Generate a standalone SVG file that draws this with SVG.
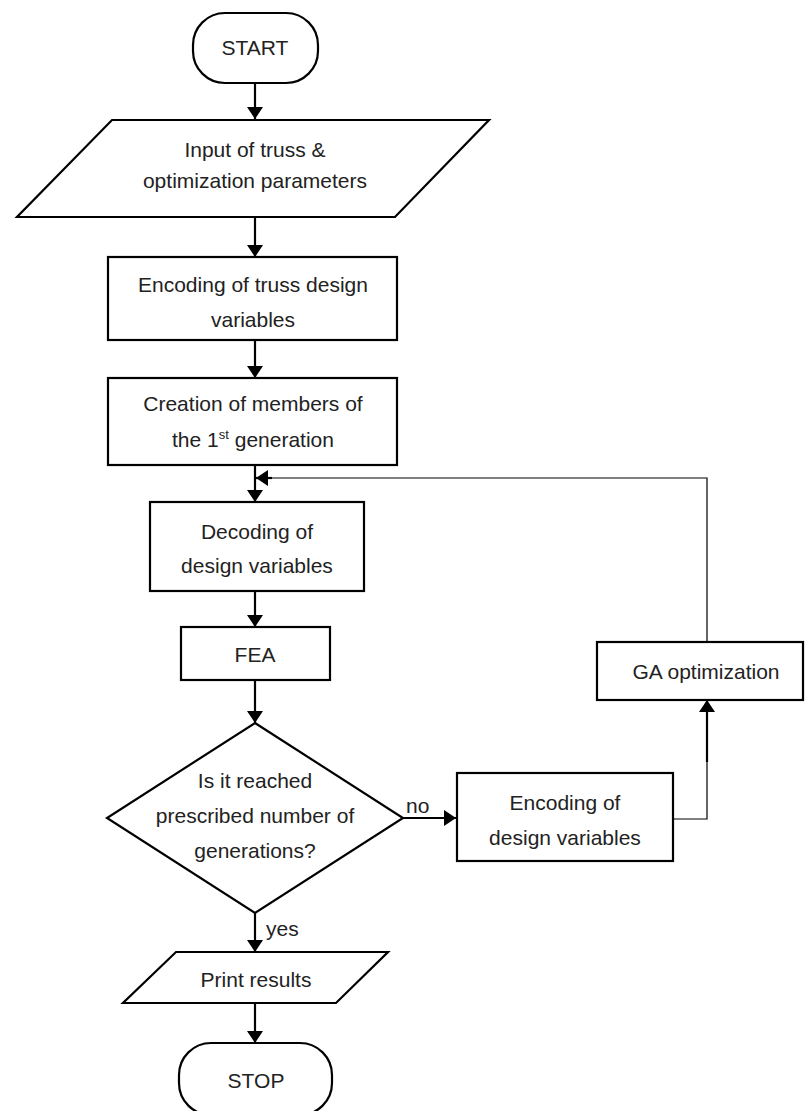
<svg xmlns="http://www.w3.org/2000/svg" width="805" height="1111" viewBox="0 0 805 1111">
  <style>
    .shape { fill: #ffffff; stroke: #000000; stroke-width: 2.2; }
    .lbl { font-family: "Liberation Sans", Arial, sans-serif; font-size: 21px; fill: #222222; text-anchor: middle; }
    .tag { font-family: "Liberation Sans", Arial, sans-serif; font-size: 21px; fill: #222222; }
    .flow { fill: none; stroke: #000000; stroke-width: 2.2; }
    .thin { fill: none; stroke: #000000; stroke-width: 1.2; }
  </style>
  <defs>
    <marker id="arrow" viewBox="0 0 12 16" refX="12" refY="8" markerWidth="13" markerHeight="16" markerUnits="userSpaceOnUse" orient="auto">
      <path d="M0,0 L12,8 L0,16 Z" fill="#000000"/>
    </marker>
  </defs>
  <rect width="805" height="1111" fill="#ffffff"/>

  <g id="connectors">
    <line class="flow" x1="255" y1="83" x2="255" y2="119" marker-end="url(#arrow)"/>
    <line class="flow" x1="255" y1="217" x2="255" y2="257" marker-end="url(#arrow)"/>
    <line class="flow" x1="255" y1="340" x2="255" y2="378" marker-end="url(#arrow)"/>
    <line class="flow" x1="255" y1="465" x2="255" y2="502" marker-end="url(#arrow)"/>
    <line class="flow" x1="255" y1="591" x2="255" y2="627" marker-end="url(#arrow)"/>
    <line class="flow" x1="255" y1="680" x2="255" y2="723" marker-end="url(#arrow)"/>
    <line class="flow" x1="403" y1="818" x2="456" y2="818" marker-end="url(#arrow)"/>
    <polyline class="thin" points="673,819 707,819 707,760"/>
    <line class="flow" x1="707" y1="762" x2="707" y2="700" marker-end="url(#arrow)"/>
    <polyline class="thin" points="707,642 707,478 270,478"/>
    <line class="flow" x1="272" y1="478" x2="256" y2="478" marker-end="url(#arrow)"/>
    <line class="flow" x1="255" y1="913" x2="255" y2="952" marker-end="url(#arrow)"/>
    <line class="flow" x1="255" y1="1003" x2="255" y2="1043" marker-end="url(#arrow)"/>
    <text class="tag" x="406" y="813">no</text>
    <text class="tag" x="266" y="936">yes</text>
  </g>

  <g id="start">
    <rect class="shape" x="193" y="13" width="125" height="70" rx="32" ry="32"/>
    <text class="lbl" x="255" y="55">START</text>
  </g>

  <g id="input">
    <polygon class="shape" points="112,120 489,120 395,217 17,217"/>
    <text class="lbl" x="255" y="157">Input of truss &amp;</text>
    <text class="lbl" x="255" y="188">optimization parameters</text>
  </g>

  <g id="encode-truss">
    <rect class="shape" x="108" y="257" width="289" height="83"/>
    <text class="lbl" x="253" y="292">Encoding of truss design</text>
    <text class="lbl" x="253" y="327">variables</text>
  </g>

  <g id="creation">
    <rect class="shape" x="108" y="378" width="289" height="87"/>
    <text class="lbl" x="253" y="411">Creation of members of</text>
    <text class="lbl" x="253" y="447">the 1<tspan font-size="13" dy="-8">st</tspan><tspan dy="8"> generation</tspan></text>
  </g>

  <g id="decoding">
    <rect class="shape" x="150" y="502" width="214" height="89"/>
    <text class="lbl" x="257" y="539">Decoding of</text>
    <text class="lbl" x="257" y="573">design variables</text>
  </g>

  <g id="fea">
    <rect class="shape" x="181" y="627" width="149" height="53"/>
    <text class="lbl" x="255" y="662">FEA</text>
  </g>

  <g id="decision">
    <polygon class="shape" points="255,723 403,818 255,913 107,818"/>
    <text class="lbl" x="255" y="788">Is it reached</text>
    <text class="lbl" x="255" y="823">prescribed number of</text>
    <text class="lbl" x="255" y="858">generations?</text>
  </g>

  <g id="encode-design">
    <rect class="shape" x="457" y="773" width="216" height="88"/>
    <text class="lbl" x="565" y="810">Encoding of</text>
    <text class="lbl" x="565" y="845">design variables</text>
  </g>

  <g id="ga">
    <rect class="shape" x="597" y="642" width="206" height="58"/>
    <text class="lbl" x="706" y="679">GA optimization</text>
  </g>

  <g id="print">
    <polygon class="shape" points="176,952 388,952 336,1003 123,1003"/>
    <text class="lbl" x="256" y="987">Print results</text>
  </g>

  <g id="stop">
    <rect class="shape" x="179" y="1043" width="153" height="72" rx="32" ry="32"/>
    <text class="lbl" x="256" y="1088">STOP</text>
  </g>
</svg>
